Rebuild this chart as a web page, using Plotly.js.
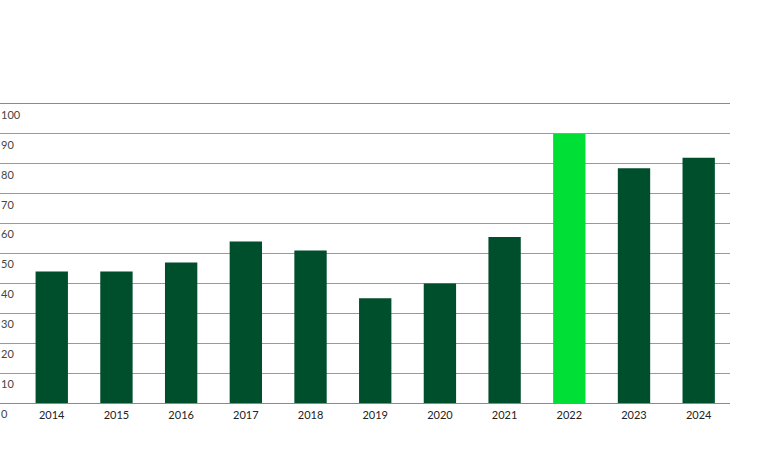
<!DOCTYPE html>
<html>
<head>
<meta charset="utf-8">
<script src="https://cdn.plot.ly/plotly-3.0.1.min.js"></script>
<style>
  html, body { margin: 0; padding: 0; background: #fff; }
  #chart { width: 772px; height: 454px; }
</style>
</head>
<body>
<div id="chart"></div>
<script>
var years = ["2014", "2015", "2016", "2017", "2018", "2019", "2020", "2021", "2022", "2023", "2024"]
var values = [44, 44, 47, 54, 51, 35, 40, 55.5, 90, 78.5, 82]
var highlightYear = "2022"
var yTicks = [0, 10, 20, 30, 40, 50, 60, 70, 80, 90, 100]

var darkGreen = "#004f2c"
var brightGreen = "#00df36"

var barColors = years.map(function(y) { return y == highlightYear ? brightGreen : darkGreen })

var trace = {
  x: years,
  y: values,
  type: "bar",
  width: 0.5,
  marker: { color: barColors, line: { width: 0 } },
  hoverinfo: "x+y"
}

var layout = {
  width: 772,
  height: 454,
  margin: { l: 0, r: 42, t: 104, b: 51 },
  paper_bgcolor: "#fff",
  plot_bgcolor: "#fff",
  font: { family: "Lato, 'Open Sans', sans-serif", size: 11, color: "#222" },
  showlegend: false,
  xaxis: {
    type: "category",
    range: [-0.8, 10.484],
    showgrid: false,
    zeroline: false,
    showline: true,
    mirror: true,
    linecolor: "#8a8a8a",
    linewidth: 1,
    ticks: "",
    ticklabelstandoff: 2,
    fixedrange: true
  },
  yaxis: {
    range: [0, 100],
    tickvals: yTicks,
    ticktext: yTicks.map(String),
    showgrid: true,
    gridcolor: "#999",
    gridwidth: 1,
    zeroline: false,
    showline: false,
    ticks: "",
    ticklabelposition: "inside",
    ticklabeloverflow: "allow",
    ticklabelshift: 11,
    ticklabelstandoff: -2,
    fixedrange: true
  },
  bargap: 0.5
}

Plotly.newPlot("chart", [trace], layout, { displayModeBar: false, staticPlot: true })
</script>
</body>
</html>
